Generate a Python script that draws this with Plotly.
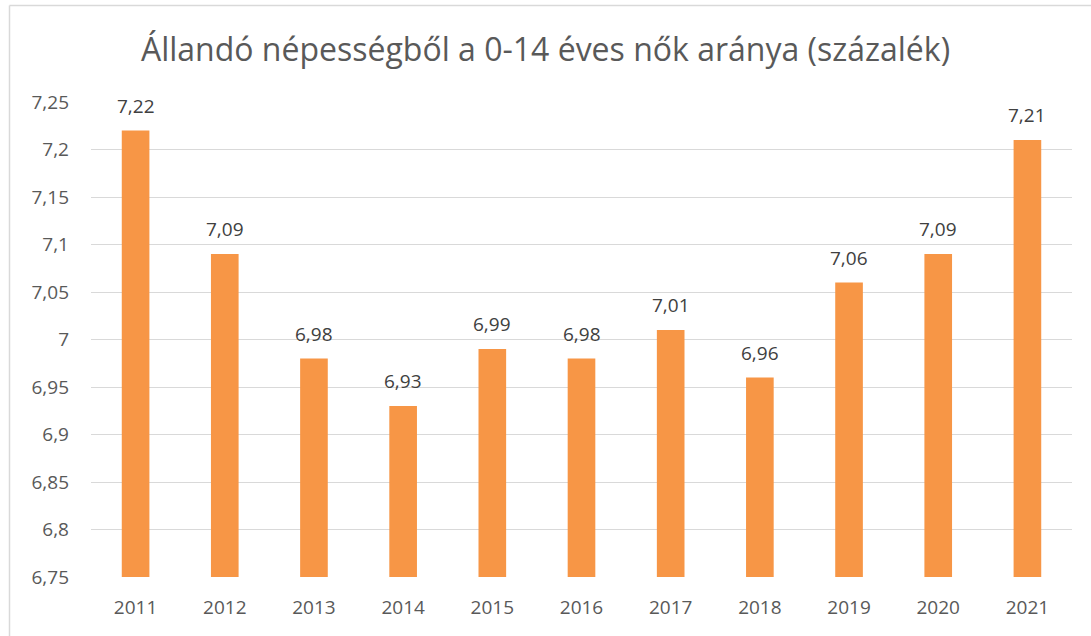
import plotly.graph_objects as go

years = ["2011", "2012", "2013", "2014", "2015", "2016", "2017", "2018", "2019", "2020", "2021"]
values = [7.22, 7.09, 6.98, 6.93, 6.99, 6.98, 7.01, 6.96, 7.06, 7.09, 7.21]
y_ticks = [6.75, 6.8, 6.85, 6.9, 6.95, 7.0, 7.05, 7.1, 7.15, 7.2, 7.25]
y_tick_labels = ["6,75", "6,8", "6,85", "6,9", "6,95", "7", "7,05", "7,1", "7,15", "7,2", "7,25"]
title = "Állandó népességből a 0-14 éves nők aránya (százalék)"

FONT = "Open Sans"
TXT = "#595959"

fig = go.Figure()
fig.add_trace(go.Bar(
    x=years, y=values,
    marker=dict(color="#F79646", line=dict(width=0)),
    hoverinfo="x+y",
))

for i, v in enumerate(values):
    fig.add_annotation(
        x=i, y=v, xref="x", yref="y", text=f"{v:.2f}".replace(".", ","),
        showarrow=False, yanchor="bottom", yshift=10,
        font=dict(family=FONT, size=19, color="#404040"),
    )

L, R, T, B = 91, 19, 102, 59
W, H = 1091, 636
pw, ph = W - L - R, H - T - B
bx = (9.5 - L) / pw
by = (H - 5.5 - B) / ph
fig.add_shape(type="line", xref="paper", yref="paper", x0=bx, x1=(W + 5 - L) / pw, y0=by, y1=by,
              line=dict(color="#D9D9D9", width=1.5))
fig.add_shape(type="line", xref="paper", yref="paper", x0=bx, x1=bx, y0=(-5 - B) / ph, y1=by,
              line=dict(color="#D9D9D9", width=1.5))

fig.update_layout(
    width=W, height=H,
    margin=dict(l=L, r=R, t=T, b=B),
    paper_bgcolor="white", plot_bgcolor="white",
    title=dict(text=title, x=0.5, xanchor="center", y=1 - 50 / H, yanchor="middle",
               font=dict(family=FONT, size=32, color=TXT)),
    bargap=0.69,
    showlegend=False,
    font=dict(family=FONT, color=TXT),
)
fig.update_xaxes(
    type="category", categoryorder="array", categoryarray=years,
    range=[-0.5, len(years) - 0.5],
    showgrid=False, showline=False, zeroline=False,
    ticks="", ticklabelstandoff=17,
    tickfont=dict(family=FONT, size=19, color=TXT),
)
fig.update_yaxes(
    range=[6.75, 7.25], tickvals=y_ticks, ticktext=y_tick_labels,
    showgrid=True, gridcolor="#D9D9D9", gridwidth=1.3,
    zeroline=False, showline=False, ticks="", ticklabelstandoff=21,
    tickfont=dict(family=FONT, size=19, color=TXT),
)

fig.write_html("out.html", config={"displayModeBar": False},
               post_script="document.body.style.margin='0';")
